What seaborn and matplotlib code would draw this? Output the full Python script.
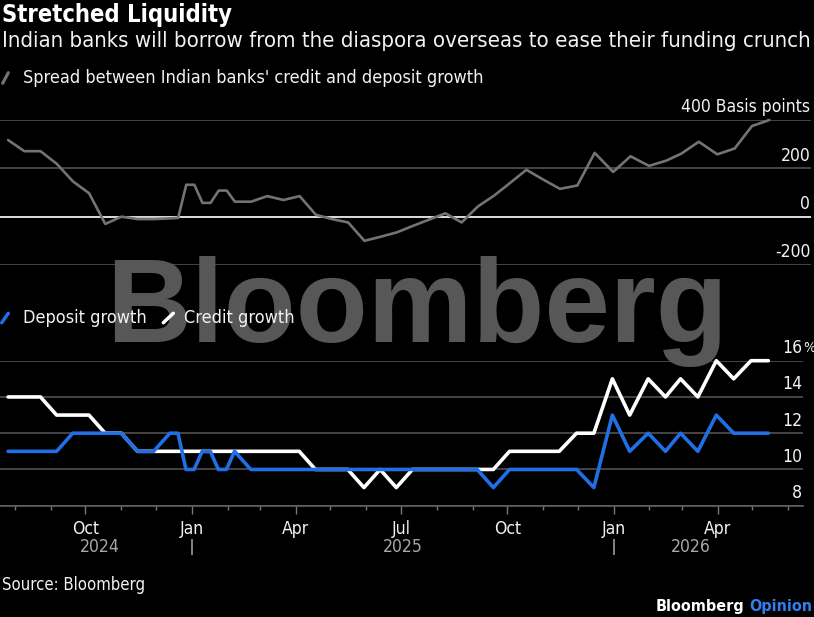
import matplotlib
matplotlib.use("Agg")
import matplotlib.pyplot as plt
import matplotlib.dates as mdates
import matplotlib.font_manager as fm
from matplotlib.lines import Line2D
from matplotlib.textpath import TextPath
import pandas as pd
import seaborn as sns

dates = [
    "2024-07-26", "2024-08-09", "2024-08-23", "2024-09-06", "2024-09-20",
    "2024-10-04", "2024-10-18", "2024-11-01", "2024-11-15", "2024-11-29",
    "2024-12-13", "2024-12-20", "2024-12-27", "2025-01-03", "2025-01-10",
    "2025-01-17", "2025-01-24", "2025-01-31", "2025-02-07", "2025-02-21",
    "2025-03-07", "2025-03-21", "2025-04-04", "2025-04-18", "2025-05-02",
    "2025-05-16", "2025-05-30", "2025-06-13", "2025-06-27", "2025-07-11",
    "2025-07-25", "2025-08-08", "2025-08-22", "2025-09-05", "2025-09-19",
    "2025-10-03", "2025-10-17", "2025-10-31", "2025-11-15", "2025-11-30",
    "2025-12-15", "2025-12-31", "2026-01-15", "2026-01-31", "2026-02-15",
    "2026-02-28", "2026-03-15", "2026-03-31", "2026-04-15", "2026-04-30",
    "2026-05-15",
]
spread_bp = [
    317, 271, 271, 219, 146, 97, -30, 0, -10, -10,
    -7, -5, 132, 132, 57, 57, 108, 108, 62, 62,
    85, 69, 85, 8, -10, -24, -100, -83, -65, -38,
    -12, 14, -24, 42, 87, 140, 194, 155, 115, 129,
    264, 185, 250, 210, 232, 261, 310, 258, 282, 375,
    400,
]
credit_growth = [
    14, 14, 14, 13, 13, 13, 12, 12, 11, 11,
    11, 11, 11, 11, 11, 11, 11, 11, 11, 11,
    11, 11, 11, 10, 10, 10, 9, 10, 9, 10,
    10, 10, 10, 10, 10, 11, 11, 11, 11, 12,
    12, 15, 13, 15, 14, 15, 14, 16, 15, 16,
    16,
]
deposit_growth = [
    11, 11, 11, 11, 12, 12, 12, 12, 11, 11,
    12, 12, 10, 10, 11, 11, 10, 10, 11, 10,
    10, 10, 10, 10, 10, 10, 10, 10, 10, 10,
    10, 10, 10, 10, 9, 10, 10, 10, 10, 10,
    9, 13, 11, 12, 11, 12, 11, 13, 12, 12,
    12,
]

spread_ticks = [-200, 0, 200, 400]
spread_labels = ["-200", "0", "200", "400 Basis points"]
growth_ticks = [8, 10, 12, 14, 16]
growth_labels = ["8", "10", "12", "14", "16"]

title = "Stretched Liquidity"
subtitle = "Indian banks will borrow from the diaspora overseas to ease their funding crunch"
spread_name = "Spread between Indian banks' credit and deposit growth"
deposit_name = "Deposit growth"
credit_name = "Credit growth"
source = "Source: Bloomberg"

BLUE = "#1f6fe6"
GRID = "#585858"
TEXT = "#f2f2f2"

sns.set_style("dark", {"axes.facecolor": "none", "figure.facecolor": "black",
                       "text.color": TEXT, "axes.edgecolor": GRID})

# the original uses a narrow face; take a condensed one if the box has it
FONT, STRETCH = "DejaVu Sans", "normal"
for f in fm.fontManager.ttflist:
    narrow = "Narrow" in f.name or "Condensed" in f.name or \
        str(f.stretch) in ("condensed", "semi-condensed")
    if narrow and f.style == "normal" and f.name in (
            "Liberation Sans Narrow", "DejaVu Sans", "DejaVu Sans Condensed",
            "Roboto Condensed", "Open Sans Condensed", "Noto Sans", "Open Sans"):
        FONT, STRETCH = f.name, str(f.stretch)
        break
plt.rcParams["font.family"] = [FONT, "DejaVu Sans"]
plt.rcParams["font.stretch"] = STRETCH


def fit(s, width_px, weight="normal", family=None):
    # font size (pt) so that the ink of s is width_px wide at 100 dpi
    prop = fm.FontProperties(family=family or FONT, weight=weight,
                             stretch=STRETCH if family is None else "normal")
    w = TextPath((0, 0), s, size=10, prop=prop).get_extents().width
    return 10 * width_px * 0.72 / w


W, H = 814, 617


def box(left, top, right, bottom):
    return [left / W, 1 - bottom / H, (right - left) / W, (bottom - top) / H]


df = pd.DataFrame({
    "date": pd.to_datetime(dates),
    "spread": spread_bp,
    "credit": credit_growth,
    "deposit": deposit_growth,
})

fig = plt.figure(figsize=(8.14, 6.17), dpi=100)
ax_top = fig.add_axes(box(0, 120, 811, 265))
ax_bot = fig.add_axes(box(0, 360.7, 803, 505.7))

sns.lineplot(data=df, x="date", y="spread", ax=ax_top, color="#737373", linewidth=1.9)
sns.lineplot(data=df, x="date", y="credit", ax=ax_bot, color="white", linewidth=2.6)
sns.lineplot(data=df, x="date", y="deposit", ax=ax_bot, color=BLUE, linewidth=2.6)

tick_fs = fit("2024", 38)

for ax in (ax_top, ax_bot):
    for line in ax.lines:
        line.set_clip_on(False)
    for sp in ax.spines.values():
        sp.set_visible(False)
    ax.set_xlabel("")
    ax.set_ylabel("")
    ax.grid(False)
    ax.yaxis.grid(True, color=GRID, linewidth=1.1)
    ax.set_axisbelow(True)
    ax.tick_params(axis="y", length=0, labelleft=False)

# top panel: spread in basis points
ax_top.set_xlim(pd.Timestamp("2024-07-19"), pd.Timestamp("2026-06-20"))
ax_top.set_ylim(-200, 400)
ax_top.set_yticks(spread_ticks)
ax_top.tick_params(axis="x", bottom=False, labelbottom=False)
ax_top.axhline(0, color="#e8e8e8", linewidth=1.3, zorder=1.5)
for v, s in zip(spread_ticks, spread_labels):
    ax_top.annotate(s, xy=(1, v), xycoords=("axes fraction", "data"),
                    xytext=(-0.5, 5.6), textcoords="offset points",
                    ha="right", va="baseline", color=TEXT, fontsize=tick_fs)

# bottom panel: growth in percent
ax_bot.set_xlim(pd.Timestamp("2024-07-19"), pd.Timestamp("2026-06-14"))
ax_bot.set_ylim(8, 16)
ax_bot.set_yticks(growth_ticks)
ax_bot.spines["bottom"].set_visible(True)
ax_bot.spines["bottom"].set_color("#666666")
ax_bot.spines["bottom"].set_linewidth(1.1)
ax_bot.xaxis.set_major_locator(mdates.MonthLocator(bymonth=(1, 4, 7, 10)))
ax_bot.xaxis.set_major_formatter(mdates.DateFormatter("%b"))
ax_bot.xaxis.set_minor_locator(mdates.MonthLocator())
ax_bot.tick_params(axis="x", which="major", bottom=True, length=6, width=1,
                   color="#777777", labelcolor=TEXT, labelsize=tick_fs, pad=4.3)
ax_bot.tick_params(axis="x", which="minor", bottom=True, length=3, width=1,
                   color="#777777")
for v, s in zip(growth_ticks, growth_labels):
    ax_bot.annotate(s, xy=(1, v), xycoords=("axes fraction", "data"),
                    xytext=(-0.5, 5.4), textcoords="offset points",
                    ha="right", va="baseline", color=TEXT, fontsize=tick_fs)
ax_bot.annotate("%", xy=(1, growth_ticks[-1]), xycoords=("axes fraction", "data"),
                xytext=(0, 6.0), textcoords="offset points",
                ha="left", va="baseline", color=TEXT, fontsize=tick_fs * 0.8)

# year row under the month labels, centred on the span of data in each year
xt = ax_bot.get_xaxis_transform()
first, last = df["date"].min(), df["date"].max()
bounds = [first] + [pd.Timestamp(f"{y}-01-01") for y in (2025, 2026)] + [last]
for i, year in enumerate(["2024", "2025", "2026"]):
    mid = bounds[i] + (bounds[i + 1] - bounds[i]) / 2
    ax_bot.text(mid, -0.319, year, transform=xt, ha="center", va="baseline",
                color="#a8a8a8", fontsize=tick_fs)
ax_bot.vlines(bounds[1:3], -0.339, -0.229, transform=xt, color="#a8a8a8",
              linewidth=1.1, clip_on=False)

# headline texts
fig.text(2 / W, 1 - 22 / H, title, fontsize=fit(title, 228, "bold"),
         fontweight="bold", color="white", va="baseline")
fig.text(2 / W, 1 - 47 / H, subtitle, fontsize=fit(subtitle, 806),
         color=TEXT, va="baseline")

# legends drawn as short slanted strokes
leg_fs = fit(spread_name, 458)
fig.add_artist(Line2D([2.7 / W, 8.3 / W], [1 - 83.3 / H, 1 - 72.7 / H],
                      transform=fig.transFigure, color="#737373", linewidth=2.3))
fig.text(23.3 / W, 1 - 83.3 / H, spread_name, fontsize=leg_fs, color=TEXT, va="baseline")
fig.add_artist(Line2D([1.7 / W, 8.3 / W], [1 - 322.7 / H, 1 - 313.3 / H],
                      transform=fig.transFigure, color=BLUE, linewidth=2.5))
fig.text(23.3 / W, 1 - 322.7 / H, deposit_name, fontsize=leg_fs, color=TEXT, va="baseline")
fig.add_artist(Line2D([163.3 / W, 173.3 / W], [1 - 322.7 / H, 1 - 313.3 / H],
                      transform=fig.transFigure, color="white", linewidth=2.5))
fig.text(184.3 / W, 1 - 322.7 / H, credit_name, fontsize=leg_fs, color=TEXT, va="baseline")

# watermark, behind the axes
fig.text(417 / W, 1 - 342 / H, "Bloomberg", ha="center", va="baseline",
         fontsize=fit("Bloomberg", 606, "bold", "Liberation Sans"),
         family="Liberation Sans", stretch="normal", fontweight="bold",
         color="#575757", zorder=-1)

# footer
fig.text(2 / W, 1 - 590 / H, source, fontsize=fit(source, 140), color=TEXT, va="baseline")
brand_fs = fit("Bloomberg", 86, "bold")
fig.text(812 / W, 1 - 611 / H, "Opinion", fontsize=brand_fs, fontweight="bold",
         color="#2f7ff0", ha="right", va="baseline")
fig.text(744 / W, 1 - 611 / H, "Bloomberg", fontsize=brand_fs, fontweight="bold",
         color="white", ha="right", va="baseline")

fig.savefig("out.png", dpi=100, facecolor="black")
